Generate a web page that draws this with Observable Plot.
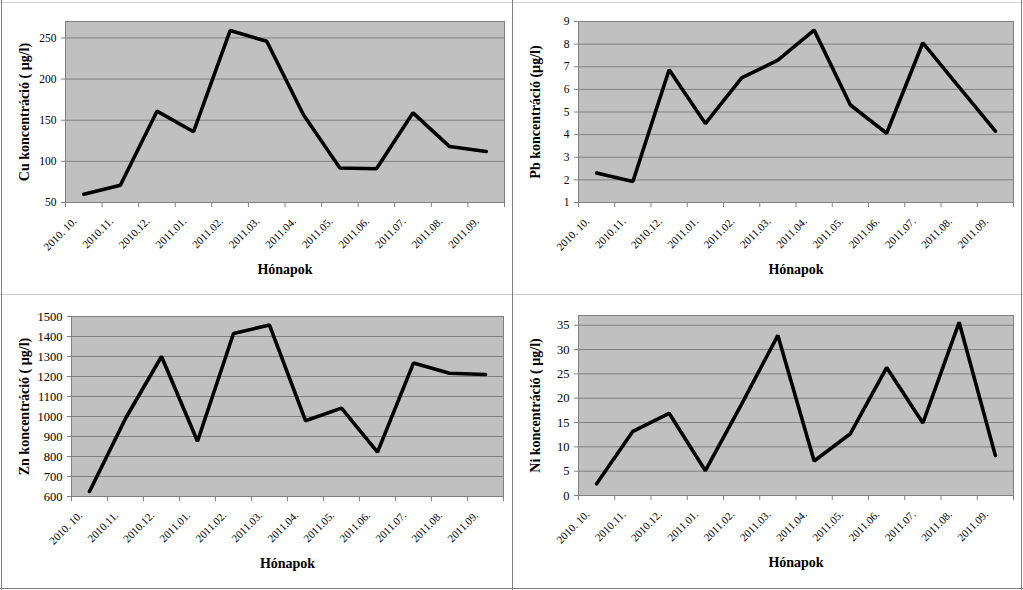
<!DOCTYPE html>
<html>
<head>
<meta charset="utf-8">
<script src="https://cdn.jsdelivr.net/npm/d3@7"></script>
<script src="https://cdn.jsdelivr.net/npm/@observablehq/plot@0.6"></script>
<style>
  html, body { margin: 0; padding: 0; background: #fff; }
  #wrap { position: relative; width: 1023px; height: 590px; background: #fff; overflow: hidden; }
  .panel { position: absolute; }
  .line { position: absolute; }
</style>
</head>
<body>
<div id="wrap"></div>
<script>
// ---- data ----
const months = ["2010. 10.", "2010.11.", "2010.12.", "2011.01.", "2011.02.", "2011.03.", "2011.04.", "2011.05.", "2011.06.", "2011.07.", "2011.08.", "2011.09."];

const cuValues = [60, 71, 161, 136, 259, 246, 157, 92, 91, 159, 118, 112];
const pbValues = [2.3, 1.93, 6.87, 4.49, 6.51, 7.29, 8.62, 5.31, 4.06, 8.06, 6.1, 4.15];
const znValues = [625, 990, 1300, 876, 1415, 1457, 979, 1042, 822, 1267, 1216, 1210];
const niValues = [2.4, 13.2, 16.9, 5.1, 18.8, 32.9, 7.1, 12.7, 26.3, 14.9, 35.6, 8.2];

const cuTicks = [50, 100, 150, 200, 250];
const pbTicks = [1, 2, 3, 4, 5, 6, 7, 8, 9];
const znTicks = [600, 700, 800, 900, 1000, 1100, 1200, 1300, 1400, 1500];
const niTicks = [0, 5, 10, 15, 20, 25, 30, 35];

const cuDomain = [50, 270];
const pbDomain = [1, 9];
const znDomain = [600, 1500];
const niDomain = [0, 37];

const cuTitle = "Cu koncentráció ( µg/l)";
const pbTitle = "Pb koncentráció (µg/l)";
const znTitle = "Zn koncentráció ( µg/l)";
const niTitle = "Ni koncentráció ( µg/l)";
const xTitle = "Hónapok";

const FONT = "'Liberation Serif', 'Times New Roman', serif";

function panel(values, ticks, domain, yTitle, m, w, h, tickFont) {
  const n = months.length;
  return Plot.plot({
    width: w, height: h,
    marginLeft: m.l, marginRight: m.r, marginTop: m.t, marginBottom: m.b,
    style: { fontFamily: FONT, fontSize: "11px", background: "transparent", color: "#000", overflow: "visible" },
    x: { type: "linear", domain: [0, n], axis: null },
    y: { domain, axis: null },
    marks: [
      Plot.frame({ fill: "#c0c0c0" }),
      Plot.gridY(ticks, { stroke: "#808080", strokeOpacity: 1 }),
      Plot.axisY(ticks, { tickSize: 4, tickPadding: 5, stroke: "#808080", label: null, fontSize: tickFont, tickFormat: d => String(d) }),
      Plot.axisX(d3.range(n + 1), { tickSize: 5, tickFormat: () => "", stroke: "#808080", label: null }),
      Plot.axisX(months.map((d, i) => i + 0.5), {
        tickSize: 0, tickRotate: -45, tickPadding: 17, dx: -9,
        tickFormat: v => months[Math.floor(v)], label: null, fontSize: 11
      }),
      Plot.text([yTitle], { text: d => d, frameAnchor: "left", textAnchor: "middle", rotate: -90, dx: -m.l + 23, fontWeight: "bold", fontSize: 14 }),
      Plot.text([xTitle], { text: d => d, frameAnchor: "bottom", textAnchor: "middle", dy: 71, fontWeight: "bold", fontSize: 14 }),
      Plot.line(values, { x: (d, i) => i + 0.5, y: d => d, stroke: "#000", strokeWidth: 3.6, strokeLinejoin: "miter" }),
      Plot.frame({ stroke: "#808080" })
    ]
  });
}

const wrap = document.getElementById("wrap");
function place(el, left, top) {
  el.classList.add("panel");
  el.style.left = left + "px";
  el.style.top = top + "px";
  wrap.appendChild(el);
}

place(panel(cuValues, cuTicks, cuDomain, cuTitle, { l: 64, r: 8, t: 21, b: 92 }, 511, 294, 11.5), 1, 0);
place(panel(pbValues, pbTicks, pbDomain, pbTitle, { l: 66, r: 9, t: 21, b: 92 }, 510, 294, 11.5), 512, 0);
place(panel(znValues, znTicks, znDomain, znTitle, { l: 70, r: 9, t: 21, b: 93 }, 511, 294, 12.5), 1, 295);
place(panel(niValues, niTicks, niDomain, niTitle, { l: 66, r: 9, t: 20, b: 94 }, 510, 294, 12.5), 512, 295);

// panel borders
function rule(left, top, width, height, color) {
  const d = document.createElement("div");
  d.className = "line";
  Object.assign(d.style, { left: left + "px", top: top + "px", width: width + "px", height: height + "px", background: color });
  wrap.appendChild(d);
}
rule(0, 2, 1023, 1, "#d4d4d4");
rule(0, 294, 1023, 1, "#c8c8c8");
rule(0, 588, 1023, 1, "#808080");
rule(1, 0, 1, 590, "#808080");
rule(512, 0, 1, 590, "#808080");
rule(1021, 0, 1, 590, "#808080");
</script>
</body>
</html>
